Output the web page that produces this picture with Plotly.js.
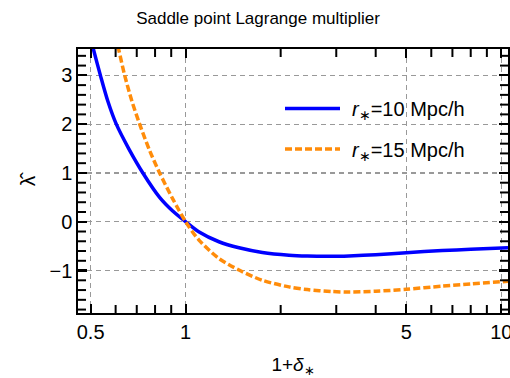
<!DOCTYPE html>
<html>
<head>
<meta charset="utf-8">
<script src="https://cdn.plot.ly/plotly-3.0.1.min.js"></script>
<style>html,body{margin:0;padding:0;background:#fff;}#plot{width:510px;height:378px;}</style>
</head>
<body>
<div id="plot"></div>
<script>
// r* = 10 Mpc/h
const x10 = [0.50, 0.511, 0.537, 0.567, 0.603, 0.66, 0.732, 0.827, 0.91, 1.0, 1.10, 1.275, 1.476, 1.75, 2.125, 2.43, 2.9, 3.29, 4.0, 5.0, 6.5, 8.0, 10.5];
const y10 = [3.75, 3.52, 3.0, 2.47, 2.0, 1.5, 1.0, 0.5, 0.22, 0.0, -0.205, -0.41, -0.534, -0.63, -0.686, -0.703, -0.708, -0.70, -0.675, -0.635, -0.59, -0.565, -0.535];
// r* = 15 Mpc/h
const x15 = [0.60, 0.615, 0.641, 0.675, 0.715, 0.77, 0.827, 0.91, 1.0, 1.10, 1.275, 1.476, 1.75, 2.125, 2.43, 2.9, 3.29, 4.0, 5.0, 6.5, 8.0, 10.5];
const y15 = [3.8, 3.5, 3.0, 2.48, 2.0, 1.45, 1.0, 0.47, 0.0, -0.37, -0.754, -0.99, -1.2, -1.335, -1.39, -1.43, -1.44, -1.425, -1.384, -1.32, -1.275, -1.22];

const xMajor = [0.5, 1, 5, 10];
const xMajorText = ['0.5', '1', '5', '10'];
const xMinor = [0.6, 0.7, 0.8, 0.9, 2, 3, 4, 6, 7, 8, 9];
const yMajor = [-1, 0, 1, 2, 3];
const yMajorText = ['\u22121', '0', '1', '2', '3'];
const yMinor = [-1.8, -1.6, -1.4, -1.2, -0.8, -0.6, -0.4, -0.2, 0.2, 0.4, 0.6, 0.8, 1.2, 1.4, 1.6, 1.8, 2.2, 2.4, 2.6, 2.8, 3.2, 3.4];
const names = ['<i>r</i><sub>\u2217</sub>=10 Mpc/h', '<i>r</i><sub>\u2217</sub>=15 Mpc/h'];

const font = 'Liberation Sans, Arial, sans-serif';
const colors = ['#0000ff', 'rgb(255,140,10)'];
const dashes = ['solid', '7px,3px'];

const W = 510, H = 378, M = {l: 78, r: 2, t: 49, b: 65};
const PW = W - M.l - M.r, PH = H - M.t - M.b;
const xr = [Math.log10(0.456), Math.log10(10.5)];
const yr = [-1.87, 3.54];

const traces = [
  {x: x10, y: y10, type: 'scatter', mode: 'lines', name: names[0], showlegend: false,
   line: {color: colors[0], width: 3.5, shape: 'spline', smoothing: 0.8}},
  {x: x15, y: y15, type: 'scatter', mode: 'lines', name: names[1], showlegend: false,
   line: {color: colors[1], width: 3.5, dash: dashes[1], shape: 'spline', smoothing: 0.8}}
];

// minor tick marks (inside, on all four sides); major ticks come from the axes
const shapes = [];
const tlx = 8 / PW, tly = 8 / PH;
xMinor.forEach(function (v) {
  shapes.push({type: 'line', layer: 'above', xref: 'x', yref: 'paper', x0: v, x1: v, y0: 0, y1: tly, line: {color: '#000', width: 2}});
  shapes.push({type: 'line', layer: 'above', xref: 'x', yref: 'paper', x0: v, x1: v, y0: 1 - tly, y1: 1, line: {color: '#000', width: 2}});
});
yMinor.forEach(function (v) {
  shapes.push({type: 'line', layer: 'above', xref: 'paper', yref: 'y', x0: 0, x1: tlx, y0: v, y1: v, line: {color: '#000', width: 2}});
  shapes.push({type: 'line', layer: 'above', xref: 'paper', yref: 'y', x0: 1 - tlx, x1: 1, y0: v, y1: v, line: {color: '#000', width: 2}});
});

// legend (drawn by hand so the key lines have the reference length)
const legendRows = [108.5, 149];
const annotations = [];
names.forEach(function (n, i) {
  const yp = (H - M.b - legendRows[i]) / PH;
  shapes.push({type: 'line', xref: 'paper', yref: 'paper', x0: (285 - M.l) / PW, x1: (340 - M.l) / PW, y0: yp, y1: yp,
               line: {color: colors[i], width: 3.5, dash: dashes[i]}});
  annotations.push({text: n, xref: 'paper', yref: 'paper', x: (350 - M.l) / PW, y: (H - M.b - legendRows[i] - 2) / PH,
                    xanchor: 'left', yanchor: 'middle', showarrow: false, font: {family: font, size: 20, color: '#000'}});
});

const axisCommon = {
  tickmode: 'array', ticks: 'inside', ticklen: 9, tickwidth: 2.2, tickcolor: '#000',
  showline: true, linecolor: '#000', linewidth: 1.6, mirror: 'ticks',
  showgrid: true, gridcolor: '#999', griddash: '5px,4px', gridwidth: 1.2,
  zeroline: false, automargin: false,
  tickfont: {family: font, size: 20, color: '#000'}
};

const layout = {
  width: W, height: H, margin: M,
  paper_bgcolor: '#fff', plot_bgcolor: '#fff',
  font: {family: font, color: '#000', size: 19},
  title: {text: 'Saddle point Lagrange multiplier', font: {family: font, size: 17, color: '#000'},
          x: 0.506, xanchor: 'center', xref: 'container', y: 1 - 18/378, yanchor: 'middle', yref: 'container'},
  showlegend: false,
  shapes: shapes,
  annotations: annotations,
  xaxis: Object.assign({}, axisCommon, {
    type: 'log', range: xr, tickvals: xMajor, ticktext: xMajorText, ticklabeloverflow: 'allow',
    title: {text: '1+<i>\u03b4</i><sub>\u2217</sub>', font: {family: font, size: 19, color: '#000'}, standoff: 16}
  }),
  yaxis: Object.assign({}, axisCommon, {
    range: yr, tickvals: yMajor, ticktext: yMajorText,
    title: {text: '\u03bb\u0302', font: {family: font, size: 21, color: '#000'}, standoff: 8}
  })
};

Plotly.newPlot('plot', traces, layout, {displayModeBar: false, staticPlot: true});
</script>
</body>
</html>
